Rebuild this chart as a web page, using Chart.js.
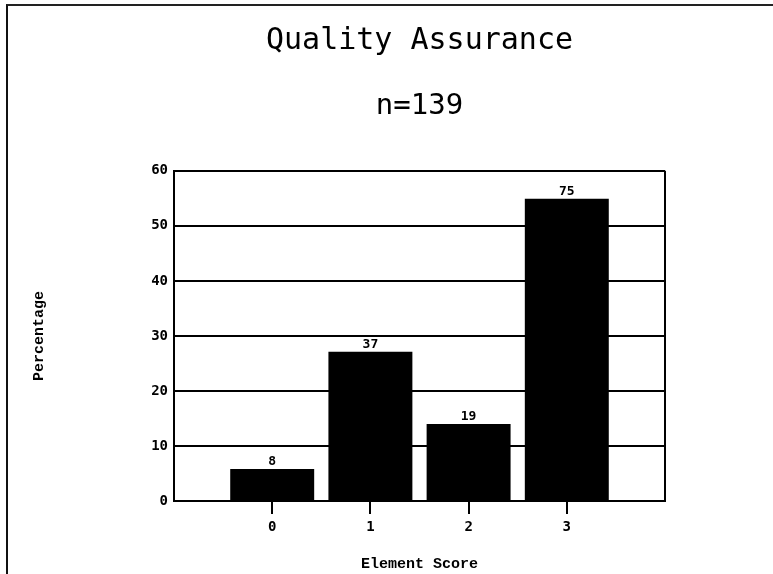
<!DOCTYPE html>
<html>
<head>
<meta charset="utf-8">
<script src="https://cdn.jsdelivr.net/npm/chart.js@4/dist/chart.umd.min.js"></script>
<style>
  body { margin: 0; background: #fff; }
  #wrap { position: relative; width: 773px; height: 574px; overflow: hidden; }
  #frame {
    position: absolute; left: 6px; top: 4px; width: 800px; height: 600px;
    border-left: 2px solid #111; border-top: 2px solid #222; pointer-events: none;
  }
</style>
</head>
<body>
<div id="wrap">
  <canvas id="qa-chart" width="773" height="574"></canvas>
  <div id="frame"></div>
</div>
<script>
const TITLE = "Quality Assurance";
const SUBTITLE = "n=139";
const scores = [0, 1, 2, 3];
const percentages = [5.8, 27.1, 14.0, 54.9];
const counts = [8, 37, 19, 75];
const yTicks = { min: 0, max: 60, step: 10 };

const MONO = "'Liberation Mono', 'Courier New', monospace";
const DJ = "'DejaVu Sans Mono', monospace";

// count labels above each bar
const countLabels = {
  id: "countLabels",
  afterDatasetsDraw(chart) {
    const ctx = chart.ctx;
    const meta = chart.getDatasetMeta(0);
    ctx.save();
    ctx.font = "bold 13px " + DJ;
    ctx.fillStyle = "#000";
    ctx.textAlign = "center";
    ctx.textBaseline = "bottom";
    meta.data.forEach((bar, i) => {
      ctx.fillText(String(counts[i]), bar.x, bar.y - 1);
    });
    ctx.restore();
  },
};

const ctx = document.getElementById("qa-chart").getContext("2d");
const qaChart = new Chart(ctx, {
  type: "bar",
  data: {
    datasets: [
      {
        label: "Percentage",
        data: scores.map((s, i) => ({ x: s, y: percentages[i] })),
        backgroundColor: "#000",
        borderWidth: 0,
        categoryPercentage: 1,
        barPercentage: 0.855,
      },
    ],
  },
  options: {
    responsive: false,
    animation: false,
    layout: { padding: { left: 0, right: 108, top: 0, bottom: 0 } },
    plugins: {
      legend: { display: false },
      tooltip: { enabled: false },
      title: {
        display: true,
        text: TITLE,
        fullSize: false,
        color: "#000",
        font: { family: DJ, size: 30, weight: "normal" },
        padding: { top: 23, bottom: 14 },
      },
      subtitle: {
        display: true,
        text: SUBTITLE,
        fullSize: false,
        color: "#000",
        font: { family: DJ, size: 29, weight: "normal" },
        padding: { top: 16, bottom: 47 },
      },
    },
    scales: {
      x: {
        type: "linear",
        min: -1,
        max: 4,
        offset: false,
        afterFit: (scale) => { scale.height = 73; },
        border: { color: "#000", width: 2 },
        grid: {
          offset: false,
          drawOnChartArea: true,
          drawTicks: true,
          tickLength: 13,
          lineWidth: 2,
          color: (c) => (c.tick && c.tick.value === 4 ? "#000" : "rgba(0,0,0,0)"),
          tickColor: (c) => (c.tick && scores.includes(c.tick.value) ? "#000" : "rgba(0,0,0,0)"),
        },
        ticks: {
          stepSize: 1,
          color: "#000",
          padding: 5,
          font: { family: DJ, size: 14, weight: "bold" },
          callback: (v) => (scores.includes(v) ? String(v) : ""),
        },
        title: {
          display: true,
          text: "Element Score",
          color: "#000",
          font: { family: MONO, size: 15, weight: "bold" },
          padding: { top: 0, bottom: 1 },
        },
      },
      y: {
        min: yTicks.min,
        max: yTicks.max,
        afterFit: (scale) => { scale.width = 174; },
        border: { color: "#000", width: 2 },
        grid: { color: "#000", lineWidth: 2, drawTicks: false },
        ticks: {
          stepSize: yTicks.step,
          color: "#000",
          padding: 6,
          font: { family: DJ, size: 14, weight: "bold" },
        },
        title: {
          display: true,
          text: "Percentage",
          color: "#000",
          font: { family: MONO, size: 15, weight: "bold" },
          padding: { top: 30, bottom: 0 },
        },
      },
    },
  },
  plugins: [countLabels],
});
</script>
</body>
</html>
